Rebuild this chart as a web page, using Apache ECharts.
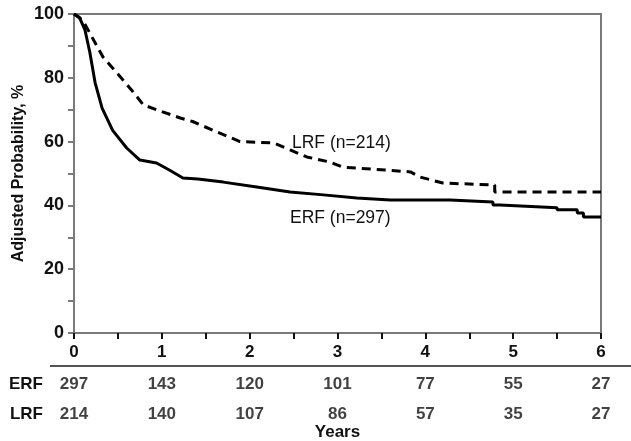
<!DOCTYPE html>
<html>
<head>
<meta charset="utf-8">
<script src="https://cdn.jsdelivr.net/npm/echarts@6/dist/echarts.min.js"></script>
<style>
  html, body { margin: 0; padding: 0; background: #fff; }
  #chart { width: 631px; height: 441px; }
</style>
</head>
<body>
<div id="chart"></div>
<script>
    // curves: [years, adjusted probability %]
    const erf = [
        [0, 100], [0.06, 99], [0.125, 95], [0.18, 88], [0.24, 78.5], [0.32, 70.5],
        [0.44, 63.5], [0.6, 58], [0.75, 54.2], [0.94, 53.3], [1.09, 51], [1.24, 48.6],
        [1.41, 48.3], [1.7, 47.3], [2.08, 45.8], [2.46, 44.2], [2.84, 43.3], [3.22, 42.3],
        [3.6, 41.7], [4.28, 41.7], [4.28, 41.1], [4.77, 41.1], [4.77, 40.1], [4.85, 40.1],
        [4.85, 39.5], [5.5, 39.3], [5.5, 38.6], [5.73, 38.6], [5.73, 37.6], [5.8, 37.6],
        [5.8, 36.4], [6, 36.4]
    ]
    const lrf = [
        [0, 100], [0.1, 98], [0.24, 91], [0.33, 86.5], [0.49, 81.5], [0.66, 76],
        [0.79, 71.5], [0.94, 70], [1.21, 67.4], [1.35, 66.3], [1.63, 63], [1.89, 60],
        [2.27, 59.6], [2.46, 57.4], [2.65, 55.2], [2.91, 53.6], [3.06, 52], [3.6, 51],
        [3.83, 50.5], [3.94, 48.9], [4.2, 47], [4.79, 46.4], [4.79, 44.2], [6, 44.2]
    ]
    const years = [0, 1, 2, 3, 4, 5, 6]
    const groups = ['ERF', 'LRF']
    const atRiskERF = [297, 143, 120, 101, 77, 55, 27]
    const atRiskLRF = [214, 140, 107, 86, 57, 35, 27]

    const gray = '#7a7a7a'
    const font = 'Liberation Sans, Arial, sans-serif'

    function riskSeries(name, values){
        return {
            type: 'scatter',
            xAxisIndex: 1,
            yAxisIndex: 1,
            symbolSize: 0,
            silent: true,
            data: values.map((v, i) => [years[i], name, v]),
            label: {
                show: true,
                position: 'inside',
                formatter: (p) => String(p.data[2]),
                color: '#111',
                fontFamily: font,
                fontSize: 17,
                fontWeight: 'bold'
            }
        }
    }

    const chart = echarts.init(document.getElementById('chart'))
    chart.setOption({
        animation: false,
        textStyle: { fontFamily: font },
        grid: [
            { left: 74, right: 30, top: 14, height: 319, outerBoundsMode: 'none', show: true, borderColor: gray, borderWidth: 2 },
            { left: 74, right: 30, top: 369, height: 60, outerBoundsMode: 'none' }
        ],
        xAxis: [
            {
                type: 'value',
                gridIndex: 0,
                min: 0,
                max: 6,
                interval: 1,
                name: 'Years',
                nameLocation: 'middle',
                nameGap: 91,
                nameMoveOverlap: false,
                nameTextStyle: { color: '#111', fontSize: 17, fontWeight: 'bold', fontFamily: font },
                axisLine: { lineStyle: { color: gray, width: 2 } },
                axisTick: { show: true, length: 6, lineStyle: { color: '#111', width: 2 } },
                minorTick: { show: true, splitNumber: 2, length: 6, lineStyle: { color: '#111', width: 2 } },
                splitLine: { show: false },
                axisLabel: { margin: 11, color: '#111', fontSize: 17, fontWeight: 'bold', fontFamily: font }
            },
            {
                type: 'value',
                gridIndex: 1,
                min: 0,
                max: 6,
                show: false
            }
        ],
        yAxis: [
            {
                type: 'value',
                gridIndex: 0,
                min: 0,
                max: 100,
                interval: 20,
                name: 'Adjusted Probability, %',
                nameLocation: 'middle',
                nameGap: 47,
                nameMoveOverlap: false,
                nameTextStyle: { color: '#111', fontSize: 16, fontWeight: 'bold', fontFamily: font },
                axisLine: { show: true, lineStyle: { color: gray, width: 2 } },
                axisTick: { show: true, length: 6, lineStyle: { color: gray, width: 2 } },
                minorTick: { show: true, splitNumber: 2, length: 6, lineStyle: { color: gray, width: 2 } },
                splitLine: { show: false },
                axisLabel: { margin: 10, color: '#111', fontSize: 18, fontWeight: 'bold', fontFamily: font }
            },
            {
                type: 'category',
                gridIndex: 1,
                data: groups,
                inverse: true,
                axisLine: { show: false },
                axisTick: { show: false },
                axisLabel: { margin: 31, color: '#111', fontSize: 17, fontWeight: 'bold', fontFamily: font }
            }
        ],
        series: [
            {
                type: 'line',
                name: 'ERF',
                data: erf,
                showSymbol: false,
                lineStyle: { color: '#000', width: 3 }
            },
            {
                type: 'line',
                name: 'LRF',
                data: lrf,
                showSymbol: false,
                lineStyle: { color: '#000', width: 3, type: [9, 6] }
            },
            riskSeries('ERF', atRiskERF),
            riskSeries('LRF', atRiskLRF)
        ],
        graphic: [
            { type: 'line', shape: { x1: 50, y1: 366, x2: 631, y2: 366 }, style: { stroke: '#555', lineWidth: 2 } },
            { type: 'text', left: 292, top: 134, style: { text: 'LRF (n=214)', font: '17.5px ' + font, fill: '#111' } },
            { type: 'text', left: 290, top: 209, style: { text: 'ERF (n=297)', font: '17.5px ' + font, fill: '#111' } }
        ]
    })
</script>
</body>
</html>
